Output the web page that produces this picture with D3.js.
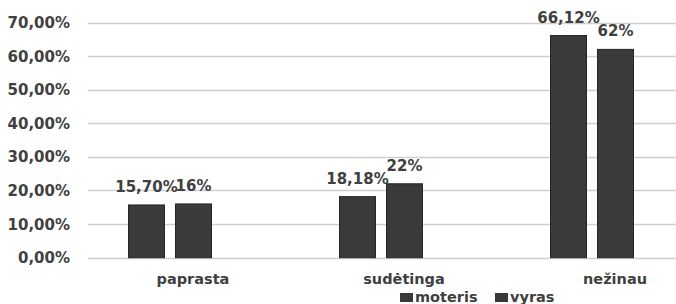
<!DOCTYPE html>
<html>
<head>
<meta charset="utf-8">
<script src="https://cdn.jsdelivr.net/npm/d3@7"></script>
<style>
  html, body { margin: 0; padding: 0; background: #fff; overflow: hidden; }
  svg { display: block; }
  text { font-family: "DejaVu Sans", Verdana, sans-serif; font-weight: bold; fill: #404040; }
</style>
</head>
<body>
<div id="chart"></div>
<script>
// duomenys
const categories = ['paprasta', 'sudėtinga', 'nežinau'];
const seriesNames = ['moteris', 'vyras'];
const moteris = [15.70, 18.18, 66.12];
const vyras = [16, 22, 62];
const valueLabels = [['15,70%', '16%'], ['18,18%', '22%'], ['66,12%', '62%']];
const yTicks = [0, 10, 20, 30, 40, 50, 60, 70];

const width = 676, height = 304;
const barColor = '#3a3a3a';

const svg = d3.select('#chart').append('svg')
  .attr('width', width)
  .attr('height', height);

const y = d3.scaleLinear().domain([0, 70]).range([257.7, 22.5]);

// kategorijų juosta (šiek tiek išeina už kairio krašto, kaip originale)
const x0 = d3.scaleBand().domain(categories).range([64.5, 697.5]).padding(0);
const bw = x0.bandwidth();
const x1 = d3.scaleBand().domain(seriesNames)
  .range([bw / 2 - 41.5, bw / 2 + 41.5])
  .paddingInner(0.234)
  .paddingOuter(0);

// tinklelis
svg.append('g')
  .selectAll('line')
  .data(yTicks)
  .join('line')
  .attr('x1', 88)
  .attr('x2', 676)
  .attr('y1', d => Math.round(y(d)) + 0.5)
  .attr('y2', d => Math.round(y(d)) + 0.5)
  .attr('stroke', '#cfcfcf')
  .attr('stroke-width', 1.5);

// y ašies žymės
svg.append('g')
  .selectAll('text')
  .data(yTicks)
  .join('text')
  .attr('x', 70)
  .attr('y', d => y(d) + 5.5)
  .attr('text-anchor', 'end')
  .style('font-size', '15px')
  .text(d => d3.format('.2f')(d).replace('.', ',') + '%');

const rows = categories.map((c, i) => ({
  cat: c,
  i,
  values: [moteris[i], vyras[i]]
}));

const groups = svg.append('g')
  .selectAll('g')
  .data(rows)
  .join('g')
  .attr('transform', d => `translate(${x0(d.cat)},0)`);

groups.selectAll('rect')
  .data(d => d.values.map((v, j) => ({ s: seriesNames[j], v })))
  .join('rect')
  .attr('x', d => x1(d.s))
  .attr('y', d => y(d.v))
  .attr('width', x1.bandwidth())
  .attr('height', d => y(0) - y(d.v))
  .attr('fill', barColor)
  .attr('stroke', '#262626')
  .attr('stroke-width', 1);

groups.selectAll('text.val')
  .data(d => d.values.map((v, j) => ({ s: seriesNames[j], v, label: valueLabels[d.i][j] })))
  .join('text')
  .attr('class', 'val')
  .attr('x', d => x1(d.s) + x1.bandwidth() / 2)
  .attr('y', d => y(d.v) - 13)
  .attr('text-anchor', 'middle')
  .style('font-size', '15px')
  .text(d => d.label);

// kategorijų pavadinimai
svg.append('g')
  .selectAll('text')
  .data(categories)
  .join('text')
  .attr('x', d => x0(d) + bw / 2 + 23)
  .attr('y', 284)
  .attr('text-anchor', 'middle')
  .style('font-size', '14.5px')
  .text(d => d);

// legenda
const legendX = [400, 495];
const legend = svg.append('g')
  .selectAll('g')
  .data(seriesNames)
  .join('g')
  .attr('transform', (d, i) => `translate(${legendX[i]},0)`);

legend.append('rect')
  .attr('x', 0)
  .attr('y', 293)
  .attr('width', 13)
  .attr('height', 9)
  .attr('fill', barColor);

legend.append('text')
  .attr('x', 15)
  .attr('y', 302)
  .style('font-size', '14.5px')
  .text(d => d);
</script>
</body>
</html>
